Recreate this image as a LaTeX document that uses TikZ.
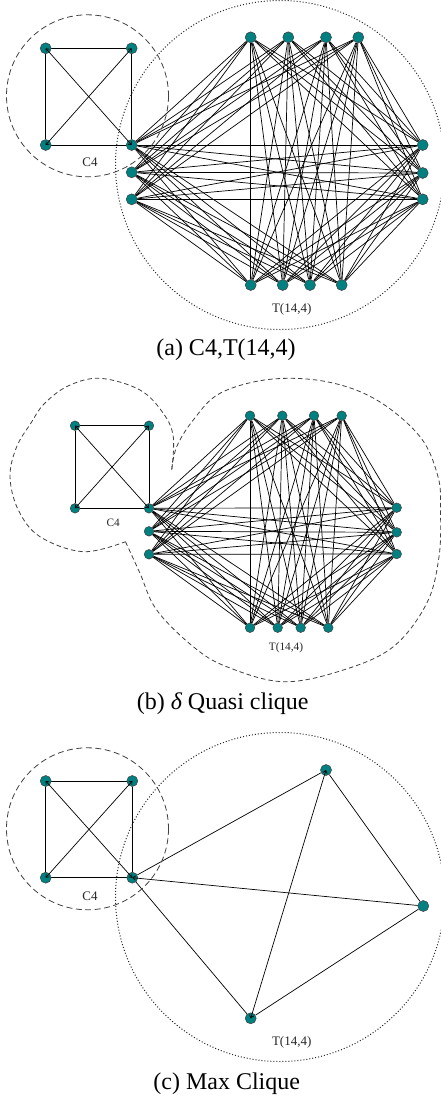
\documentclass[tikz,border=0pt]{standalone}
\usepackage{fontspec}
\setmainfont{Liberation Serif}
\usetikzlibrary{arrows.meta}
\definecolor{vteal}{RGB}{0,128,128}
\pgfdeclarelayer{edges}
\pgfsetlayers{edges,main}
% complete 4-partite edge set of T(14,4); #1 is the panel prefix
\newcommand\kpart[1]{%
  \foreach \u in {L1,L2,L3}{\foreach \v in {T1,T2,T3,T4,R1,R2,R3,B1,B2,B3,B4}{\draw[link] (#1\u) -- (#1\v);}}%
  \foreach \u in {T1,T2,T3,T4}{\foreach \v in {R1,R2,R3,B1,B2,B3,B4}{\draw[link] (#1\u) -- (#1\v);}}%
  \foreach \u in {R1,R2,R3}{\foreach \v in {B1,B2,B3,B4}{\draw[link] (#1\u) -- (#1\v);}}%
}
\begin{document}
\begin{tikzpicture}[x=1pt,y=-1pt,
  vtx/.style={circle,fill=vteal,draw=black!75,line width=0.5pt,inner sep=0pt,minimum size=11pt},
  vtxs/.style={vtx,minimum size=9.6pt},
  link/.style={line width=0.7pt,black},
  barbs/.style={link,{Straight Barb[length=2.6pt,width=4.4pt]}-{Straight Barb[length=2.6pt,width=4.4pt]}},
  ring/.style={line width=0.8pt,black!75,dash pattern=on 6pt off 3.5pt},
  blob/.style={line width=0.8pt,black!75,dash pattern=on 4.5pt off 3pt},
  dotring/.style={line width=1pt,black!85,dash pattern=on 1pt off 2pt},
  lbl/.style={font=\fontsize{13}{15}\selectfont,text=black!85},
  lbls/.style={font=\fontsize{11.3}{13}\selectfont,text=black!85},
  captext/.style={font=\fontsize{24}{28}\selectfont}]
\clip (0,0) rectangle (441,1101);

% ---------------- (a) C4 and T(14,4) ----------------
\draw[dotring] (280,165) circle[radius=164.5];
\draw[ring] (87.5,95.8) circle[radius=81];
\foreach \n/\x/\y in {aC1/45.7/48.3, aC2/131.7/48.3, aC3/45.7/145,
    aL1/131.7/145, aL2/131.7/172.3, aL3/131.7/199.3,
    aT1/250.7/37.3, aT2/288.3/37.3, aT3/326/37.3, aT4/358.3/37.3,
    aR1/422.7/145, aR2/422.7/173, aR3/422.7/199.3,
    aB1/250.7/285, aB2/282.7/285, aB3/310/285, aB4/341.7/285}
  \node[vtx] (\n) at (\x,\y) {};
\begin{pgfonlayer}{edges}
  \kpart{a}
  \draw[link] (aC1) -- (aC2) (aC2) -- (aL1) (aL1) -- (aC3) (aC3) -- (aC1);
\end{pgfonlayer}
\draw[barbs] (aC1.center) -- (aL1.center);
\draw[barbs] (aC3.center) -- (aC2.center);
\node[lbl] (aC4lbl) at (90,162.7) {C4};
\node[lbl] (aTlbl) at (291.7,309) {T(14,4)};
\node[captext] (capa) at (226,350) {(a) C4,T(14,4)};

% ---------------- (b) delta quasi clique ----------------
\draw[blob] plot[smooth,tension=0.6] coordinates {(171.7,470) (173.3,436.7) (163.3,413.3) (140,390) (100,378.3) (68,386) (44,404) (31,423) (16.7,446.7) (10,476.7) (18.3,510) (40,536.7) (83.3,551.7) (125.5,541.7)};
\draw[blob] plot[smooth,tension=0.6] coordinates {(125.5,541.7) (140,573.3) (156.7,610) (193.3,646.7) (226.7,666.7) (283.3,681.7) (343.3,670) (393.3,646.7) (426.7,603.3) (439,556.7) (440.5,510) (438,476.7) (420,436.7) (376.7,400) (326.7,381.7) (270,379.3) (220,393.3) (193.3,420) (176.7,446.7) (171.7,470)};
\foreach \n/\x/\y in {bC1/75/425.7, bC2/149/425.7, bC3/75/508.3,
    bL1/149/508.3, bL2/149/531.3, bL3/149/554.3,
    bT1/250/415.7, bT2/282.3/415.7, bT3/314/415.7, bT4/341.7/415.7,
    bR1/396.7/507.7, bR2/396.7/532.3, bR3/396.7/554,
    bB1/250/627.7, bB2/277.7/627.7, bB3/300.7/627.7, bB4/328.3/627.7}
  \node[vtxs] (\n) at (\x,\y) {};
\begin{pgfonlayer}{edges}
  \kpart{b}
  \draw[link] (bC1) -- (bC2) (bC2) -- (bL1) (bL1) -- (bC3) (bC3) -- (bC1);
\end{pgfonlayer}
\draw[barbs] (bC1.center) -- (bL1.center);
\draw[barbs] (bC3.center) -- (bC2.center);
\node[lbls] (bC4lbl) at (113.3,523.3) {C4};
\node[lbls] (bTlbl) at (286,647.7) {T(14,4)};
\node[captext] (capb) at (222.7,703.3) {(b) {\itshape δ} Quasi clique};

% ---------------- (c) maximum clique ----------------
\draw[dotring] (280,897) circle[radius=164.5];
\draw[ring] (87.5,828.8) circle[radius=81];
\foreach \n/\x/\y in {cC1/45.7/781, cC2/132.3/781, cC3/45.7/877.7, cC4/132.3/877.7,
    cQ1/326/770, cQ2/423.3/906, cQ3/250.7/1018.3}
  \node[vtx] (\n) at (\x,\y) {};
\begin{pgfonlayer}{edges}
  \draw[link] (cC1) -- (cC2) (cC2) -- (cC4) (cC4) -- (cC3) (cC3) -- (cC1);
  \draw[link] (cC4) -- (cQ1) (cC4) -- (cQ3) (cQ1) -- (cQ2) (cQ2) -- (cQ3);
\end{pgfonlayer}
\draw[barbs] (cC1.center) -- (cC4.center);
\draw[barbs] (cC3.center) -- (cC2.center);
\draw[barbs] (cQ3.center) -- (cQ1.center);
\draw[link,-{Straight Barb[length=2.6pt,width=4.4pt]}] (cQ2) -- (cC4.center);
\node[lbl] (cC4lbl) at (90,896) {C4};
\node[lbl] (cTlbl) at (291.7,1042.3) {T(14,4)};
\node[captext] (capc) at (226.7,1083.3) {(c) Max Clique};
\end{tikzpicture}
\end{document}
